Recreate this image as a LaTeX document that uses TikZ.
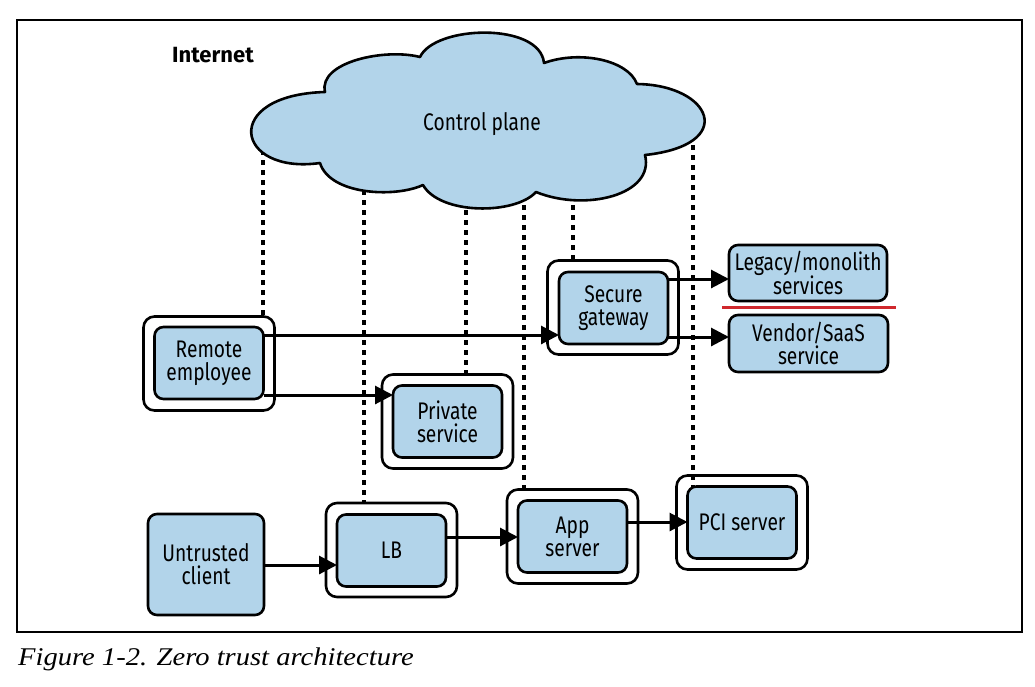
\documentclass[tikz,border=0pt]{standalone}
\usepackage{fontspec}
\newfontfamily\dia[FakeStretch=0.8]{Fira Sans}
\newfontfamily\diab{Fira Sans}
\newfontfamily\capfont[FakeStretch=1.12]{Liberation Serif}
\usetikzlibrary{arrows.meta}
\definecolor{cloudblue}{RGB}{178,212,234}
\definecolor{redline}{RGB}{208,40,45}
\begin{document}
\begin{tikzpicture}[x=1pt,y=-1pt,
  lbl/.style={font=\dia\fontsize{24}{23}\selectfont, align=center, inner sep=0pt},
  innerbox/.style={lbl, draw=black, line width=2.6pt, fill=cloudblue, rounded corners=9pt, minimum width=109pt, minimum height=72pt, outer sep=0pt},
  outerbox/.style={draw=black, line width=2.6pt, fill=white, rounded corners=11pt, minimum width=131pt, minimum height=94pt, inner sep=0pt, outer sep=0pt},
  arr/.style={line width=3pt, -{Triangle[length=18pt,width=18pt]}},
  dots/.style={line width=3.2pt, dash pattern=on 5pt off 5pt},
]
\fill[white] (0,0) rectangle (1035,686);
\useasboundingbox (0,0) rectangle (1035,686);
% frame
\draw[line width=1.5pt] (17,20) rectangle (1022,632);
\node[inner sep=0pt, font=\diab\bfseries\fontsize{22}{24}\selectfont] (internet) at (213,55) {Internet};

% outer boxes
\node[outerbox] (reo) at (209,363.5) {};
\node[outerbox] (pso) at (447.5,421.5) {};
\node[outerbox] (sgo) at (613,307.5) {};
\node[outerbox] (lbo) at (391.5,550) {};
\node[outerbox] (apo) at (572.5,536.5) {};
\node[outerbox] (pcio) at (742,522.5) {};

% inner boxes
\node[innerbox] (re) at (209,363) {Remote\\employee};
\node[innerbox] (ps) at (447.5,421.5) {Private\\service};
\node[innerbox] (sg) at (613.5,308) {Secure\\gateway};
\node[innerbox] (lb) at (391.5,550.5) {LB};
\node[innerbox] (ap) at (572.5,536.5) {App\\server};
\node[innerbox] (pci) at (742,522.5) {PCI server};
\node[innerbox, minimum width=158pt, minimum height=56pt] (leg) at (808,273) {Legacy/monolith\\services};
\node[innerbox, minimum width=159pt, minimum height=57pt] (ven) at (808.5,343.5) {Vendor/SaaS\\service};
\node[innerbox, minimum width=116pt, minimum height=101pt] (uc) at (206,564.5) {Untrusted\\client};

% red separator
\coordinate (rl1) at (722,307.5);
\coordinate (rl2) at (896,307.5);
\draw[redline, line width=2.5pt] (rl1) -- (rl2);

% cloud anchor coordinates
\coordinate (c1) at (263,140);
\coordinate (c2) at (364,180);
\coordinate (c3) at (466,190);
\coordinate (c4) at (524,185);
\coordinate (c5) at (573,185);
\coordinate (c6) at (693,125);

% dotted links
\draw[dots] (c1) -- (c1 |- reo.north);
\draw[dots] (c2) -- (c2 |- lbo.north);
\draw[dots] (c3) -- (c3 |- pso.north);
\draw[dots] (c4) -- (c4 |- apo.north);
\draw[dots] (c5) -- (c5 |- sgo.north);
\draw[dots] (c6) -- (c6 |- pci.north);

% cloud
\draw[line width=2.6pt, fill=cloudblue, line join=round]
  (320,163) .. controls (235,175) and (220,95) .. (325,92)
  .. controls (318,62) and (385,48) .. (420,57)
  .. controls (435,25) and (540,22) .. (544,63)
  .. controls (580,50) and (628,60) .. (637,84)
  .. controls (712,85) and (738,145) .. (645,155)
  .. controls (655,195) and (585,212) .. (536,192)
  .. controls (515,215) and (440,215) .. (423,185)
  .. controls (395,198) and (330,195) .. (320,163) -- cycle;
\node[lbl] (cp) at (482,124) {Control plane};

% arrows
\draw[arr] (re.east |- 0,335) -- (sg.west |- 0,335);
\draw[arr] (re.east |- 0,395) -- (ps.west |- 0,395);
\draw[arr] (sg.east |- 0,279) -- (leg.west |- 0,279);
\draw[arr] (sg.east |- 0,337) -- (ven.west |- 0,337);
\draw[arr] (uc.east |- 0,565) -- (lb.west |- 0,565);
\draw[arr] (lb.east |- 0,537) -- (ap.west |- 0,537);
\draw[arr] (ap.east |- 0,522) -- (pci.west |- 0,522);

% caption
\node[anchor=base west, inner sep=0pt, font=\capfont\itshape\fontsize{25.5}{28}\selectfont] (cap) at (18,665) {Figure 1-2. Zero trust architecture};
\end{tikzpicture}
\end{document}
